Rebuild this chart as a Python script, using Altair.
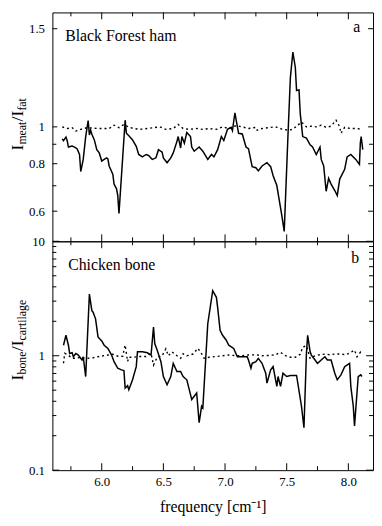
import altair as alt
import pandas as pd

# ---------------- data ----------------
# panel a: Black Forest ham, I_meat / I_fat
ham_x = [5.68, 5.69, 5.71, 5.72, 5.73, 5.76, 5.78, 5.80, 5.82, 5.83,
         5.85, 5.87, 5.89, 5.90, 5.91, 5.92, 5.94, 5.96, 5.98, 6.00,
         6.02, 6.04, 6.05, 6.06, 6.09, 6.10, 6.12, 6.13, 6.14, 6.19,
         6.20, 6.22, 6.25, 6.28, 6.30, 6.33, 6.36, 6.38, 6.41, 6.44,
         6.46, 6.49, 6.50, 6.53, 6.56, 6.58, 6.61, 6.62, 6.64, 6.65,
         6.67, 6.69, 6.72, 6.73, 6.75, 6.79, 6.82, 6.86, 6.89, 6.91,
         6.94, 6.97, 6.99, 7.02, 7.05, 7.06, 7.08, 7.11, 7.14, 7.17,
         7.19, 7.22, 7.25, 7.27, 7.30, 7.34, 7.37, 7.39, 7.42, 7.44,
         7.46, 7.48, 7.51, 7.53, 7.55, 7.57, 7.58, 7.60, 7.61, 7.63,
         7.66, 7.69, 7.71, 7.74, 7.77, 7.78, 7.80, 7.82, 7.84, 7.86,
         7.89, 7.91, 7.93, 7.94, 7.97, 7.99, 8.02, 8.06, 8.09, 8.097,
         8.104, 8.117]
ham_ratio = [0.93, 0.92, 0.94, 0.92, 0.885, 0.89, 0.885, 0.876, 0.846, 0.763,
             0.821, 0.943, 1.026, 0.952, 0.981, 0.956, 0.924, 0.871, 0.854, 0.813,
             0.821, 0.829, 0.824, 0.789, 0.751, 0.707, 0.687, 0.660, 0.592, 1.028,
             0.962, 0.947, 0.924, 0.889, 0.846, 0.834, 0.846, 0.841, 0.821, 0.829,
             0.871, 0.858, 0.829, 0.805, 0.829, 0.854, 0.916, 0.943, 0.880, 0.943,
             0.906, 0.966, 0.943, 0.885, 0.863, 0.885, 0.863, 0.821, 0.846, 0.834,
             0.871, 0.943, 0.921, 0.985, 0.997, 0.978, 1.06, 0.962, 0.958, 0.885,
             0.876, 0.786, 0.781, 0.766, 0.789, 0.805, 0.786, 0.744, 0.701, 0.641,
             0.586, 0.531, 0.943, 1.227, 1.362, 1.278, 1.162, 1.165, 1.056, 0.943,
             0.934, 0.897, 0.885, 0.846, 0.885, 0.821, 0.789, 0.677, 0.732, 0.707,
             0.680, 0.660, 0.729, 0.740, 0.773, 0.834, 0.846, 0.821, 0.797, 0.906,
             0.943, 0.871]
ham_ref_x = [5.68, 5.72, 5.76, 5.79, 5.83, 5.88, 5.97, 6.06, 6.10, 6.14,
             6.18, 6.22, 6.26, 6.31, 6.37, 6.42, 6.47, 6.52, 6.58, 6.62,
             6.66, 6.71, 6.77, 6.82, 6.87, 6.93, 6.98, 7.03, 7.09, 7.14,
             7.19, 7.25, 7.26, 7.30, 7.35, 7.41, 7.46, 7.51, 7.55, 7.59,
             7.62, 7.66, 7.70, 7.74, 7.78, 7.82, 7.86, 7.90, 7.93, 7.94,
             7.97, 8.02, 8.07, 8.11]
ham_ref_ratio = [1.00, 0.99, 0.995, 0.975, 0.985, 0.995, 0.99, 0.99, 1.007, 0.995,
                 1.01, 0.998, 0.99, 0.985, 0.99, 0.995, 1.0, 0.985, 0.99, 1.01,
                 0.99, 0.985, 0.99, 0.985, 0.99, 0.985, 1.0, 0.99, 1.005, 1.0,
                 0.99, 0.997, 0.98, 0.99, 0.995, 1.0, 0.987, 0.98, 0.985, 1.007,
                 1.02, 1.0, 1.003, 1.0, 1.007, 0.997, 1.003, 1.028, 1.0, 0.962,
                 0.997, 0.99, 0.99, 0.985]

# panel b: Chicken bone, I_bone / I_cartilage
bone_x = [5.69, 5.71, 5.73, 5.74, 5.76, 5.77, 5.79, 5.81, 5.84, 5.85,
          5.87, 5.90, 5.92, 5.93, 5.95, 5.97, 6.00, 6.02, 6.05, 6.08,
          6.10, 6.13, 6.16, 6.18, 6.19, 6.21, 6.22, 6.25, 6.28, 6.29,
          6.33, 6.37, 6.40, 6.42, 6.43, 6.45, 6.48, 6.50, 6.53, 6.56,
          6.58, 6.61, 6.64, 6.66, 6.69, 6.71, 6.73, 6.75, 6.77, 6.79,
          6.81, 6.82, 6.86, 6.90, 6.93, 6.94, 6.96, 6.98, 7.01, 7.03,
          7.07, 7.10, 7.14, 7.18, 7.19, 7.21, 7.22, 7.25, 7.27, 7.30,
          7.33, 7.34, 7.37, 7.39, 7.41, 7.42, 7.43, 7.45, 7.47, 7.50,
          7.53, 7.58, 7.62, 7.64, 7.66, 7.67, 7.69, 7.70, 7.73, 7.75,
          7.78, 7.81, 7.83, 7.86, 7.89, 7.91, 7.94, 7.97, 8.01, 8.02,
          8.04, 8.05, 8.08, 8.10, 8.11]
bone_ratio = [1.236, 1.509, 1.236, 1.047, 1.062, 0.98, 1.047, 1.013, 0.917, 0.98,
              0.658, 3.46, 2.48, 2.40, 2.10, 1.46, 1.348, 1.236, 1.157, 1.013,
              0.887, 0.777, 0.752, 0.742, 0.522, 0.547, 0.505, 0.616, 0.803, 1.083,
              1.083, 1.062, 1.013, 1.781, 1.278, 1.119, 0.887, 0.658, 0.558, 0.658,
              0.858, 0.727, 0.727, 0.658, 0.616, 0.505, 0.414, 0.442, 0.472, 0.26,
              0.362, 0.35, 1.904, 3.70, 3.24, 2.65, 1.667, 1.509, 1.366, 1.236,
              1.157, 0.98, 0.98, 0.98, 0.917, 0.777, 0.858, 0.887, 0.948, 0.858,
              0.703, 0.576, 0.752, 0.803, 0.616, 0.54, 0.658, 0.54, 0.703, 0.658,
              0.672, 0.672, 0.362, 0.235, 1.047, 1.509, 1.083, 1.013, 0.917, 0.858,
              0.917, 0.98, 0.917, 0.917, 0.703, 0.616, 0.681, 0.803, 0.858, 0.54,
              0.362, 0.243, 0.658, 0.681, 0.658]
bone_ref_x = [5.69, 5.70, 5.73, 5.76, 5.79, 5.83, 5.88, 5.93, 5.98, 6.04,
              6.09, 6.13, 6.17, 6.19, 6.21, 6.22, 6.25, 6.31, 6.36, 6.40,
              6.42, 6.45, 6.49, 6.52, 6.54, 6.57, 6.61, 6.64, 6.66, 6.69,
              6.71, 6.74, 6.78, 6.81, 6.83, 6.87, 6.93, 6.98, 7.03, 7.09,
              7.14, 7.19, 7.25, 7.30, 7.35, 7.41, 7.45, 7.49, 7.53, 7.57,
              7.61, 7.63, 7.66, 7.69, 7.73, 7.77, 7.81, 7.85, 7.89, 7.94,
              7.98, 8.02, 8.05, 8.07, 8.10, 8.12]
bone_ref_ratio = [0.86, 1.05, 1.01, 0.95, 0.95, 0.97, 0.95, 0.96, 0.985, 1.01,
                  1.03, 0.99, 0.99, 1.24, 0.89, 0.97, 0.97, 0.985, 0.985, 1.05,
                  0.83, 0.97, 1.0, 1.15, 1.0, 1.08, 1.0, 0.95, 1.04, 1.0,
                  1.01, 1.035, 1.16, 1.04, 0.95, 0.97, 0.985, 1.0, 1.015, 1.0,
                  1.0, 1.015, 1.02, 1.0, 1.005, 1.02, 1.07, 1.0, 0.97, 0.97,
                  1.03, 1.19, 1.22, 0.95, 1.0, 1.02, 1.035, 1.02, 1.035, 1.035,
                  1.02, 1.07, 1.12, 0.98, 1.08, 1.05]

# axis ticks / labels
x_domain = [5.6, 8.2]
x_major = [6.0, 6.5, 7.0, 7.5, 8.0]
x_minor = [5.75, 6.25, 6.75, 7.25, 7.75]
ham_domain = [0.5, 1.0, 1.5]
ham_labels = [0.6, 0.8, 1.0, 1.5]
ham_major = [0.6, 0.8, 1.0, 1.5]
ham_minor = [0.7, 0.9]
bone_domain = [0.1, 10]
bone_labels = [0.1, 1, 10]
bone_major = [0.1, 1, 10]
bone_minor = [0.2, 0.3, 0.4, 0.5, 0.6, 0.7, 0.8, 0.9, 2, 3, 4, 5, 6, 7, 8, 9]

ham_title = ["I", "meat", "/I", "fat"]
bone_title = ["I", "bone", "/I", "cartilage"]
x_title = "frequency [cm⁻¹]"

# ---------------- chart ----------------
FONT = "Liberation Serif, Times New Roman, Times, serif"
W = 325
H = 232

x_scale = alt.Scale(domain=x_domain, nice=False, zero=False)
ham_scale = alt.Scale(type="log", domain=ham_domain, range=[H, H / 2, 16.5], nice=False)
bone_scale = alt.Scale(type="log", domain=bone_domain, nice=False)


def label_axis_y(values):
    return alt.Axis(orient="left", values=values, ticks=False, domain=False, grid=False,
                    labelFont=FONT, labelFontSize=13, labelColor="black",
                    labelPadding=8, format="~g", title=None)


x_label_axis = alt.Axis(orient="bottom", values=x_major, ticks=False, domain=False, grid=False,
                        labelFont=FONT, labelFontSize=13, labelColor="black", labelPadding=6,
                        format=".1f", title=x_title, titleFont=FONT, titleFontSize=16,
                        titleFontWeight="normal", titleColor="black", titlePadding=10)


def x_ticks(values, length):
    df = pd.DataFrame({"v": values})
    base = alt.Chart(df).mark_rule(color="black", strokeWidth=1)
    xe = alt.X("v:Q", scale=x_scale, axis=None)
    return [base.encode(x=xe, y=alt.value(0), y2=alt.value(length)),
            base.encode(x=xe, y=alt.value(H - length), y2=alt.value(H))]


def y_ticks(values, length, yscale):
    df = pd.DataFrame({"v": values})
    base = alt.Chart(df).mark_rule(color="black", strokeWidth=1)
    ye = alt.Y("v:Q", scale=yscale, axis=None)
    return [base.encode(y=ye, x=alt.value(0), x2=alt.value(length)),
            base.encode(y=ye, x=alt.value(W - length), x2=alt.value(W))]


def panel(sx, sy, rx, ry, yscale, ylabels, ymajor, yminor, ymaj_size, ymin_size,
          note, note_xy, letter, letter_xy, title_parts, title_anchor, with_x_labels):
    solid = pd.DataFrame({"x": sx, "y": sy})
    dotted = pd.DataFrame({"x": rx, "y": ry})

    l1 = alt.Chart(solid).mark_line(color="black", strokeWidth=1.5).encode(
        x=alt.X("x:Q", scale=x_scale, axis=x_label_axis if with_x_labels else None),
        y=alt.Y("y:Q", scale=yscale, axis=label_axis_y(ylabels)))
    l2 = alt.Chart(dotted).mark_line(color="black", strokeWidth=1.4, strokeDash=[2, 3]).encode(
        x=alt.X("x:Q", scale=x_scale, axis=None),
        y=alt.Y("y:Q", scale=yscale, axis=None))

    ticks = (x_ticks(x_major, 7) + x_ticks(x_minor, 4)
             + y_ticks(ymajor, ymaj_size, yscale) + y_ticks(yminor, ymin_size, yscale))

    note_layer = alt.Chart(pd.DataFrame({"t": [note]})).mark_text(
        align="left", baseline="alphabetic", font=FONT, fontSize=16, color="black").encode(
        x=alt.value(note_xy[0]), y=alt.value(note_xy[1]), text="t:N")
    letter_layer = alt.Chart(pd.DataFrame({"t": [letter]})).mark_text(
        align="right", baseline="alphabetic", font=FONT, fontSize=16, color="black").encode(
        x=alt.value(letter_xy[0]), y=alt.value(letter_xy[1]), text="t:N")

    # rotated y title with subscripts: big, small, big, small
    bx, by = title_anchor
    sizes = [18, 12, 18, 12]
    along = [0, 6, 29.5, 40.5]
    shift = [0, 2.5, 0, 2.5]
    title_layers = []
    for part, fs, a, s in zip(title_parts, sizes, along, shift):
        title_layers.append(
            alt.Chart(pd.DataFrame({"t": [part]})).mark_text(
                align="left", baseline="alphabetic", angle=270, font=FONT,
                fontSize=fs, color="black").encode(
                x=alt.value(bx + s), y=alt.value(by - a), text="t:N"))

    return alt.layer(l1, l2, *ticks, note_layer, letter_layer, *title_layers).resolve_axis(
        x="independent", y="independent").properties(width=W, height=H)


top = panel(ham_x, ham_ratio, ham_ref_x, ham_ref_ratio, ham_scale, ham_labels,
            ham_major, ham_minor, 5, 4, "Black Forest ham", (13, 29), "a", (312, 20),
            ham_title, (-29.6, 140), False)
bottom = panel(bone_x, bone_ratio, bone_ref_x, bone_ref_ratio, bone_scale, bone_labels,
               bone_major, bone_minor, 7, 4, "Chicken bone", (16, 29), "b", (311, 22),
               bone_title, (-29.6, 141), True)

chart = alt.vconcat(top, bottom, spacing=0, bounds="flush").resolve_scale(
    x="independent", y="independent").properties(
    padding={"left": 0, "top": 0, "right": 0, "bottom": 0}).configure(
    padding={"left": 0, "top": 0, "right": 0, "bottom": 0}).configure_view(
    stroke="black", strokeWidth=1)

chart.save("out.html", embed_options={"renderer": "svg", "actions": False,
                                      "padding": {"left": 0, "top": 0, "right": 0, "bottom": 0}})
